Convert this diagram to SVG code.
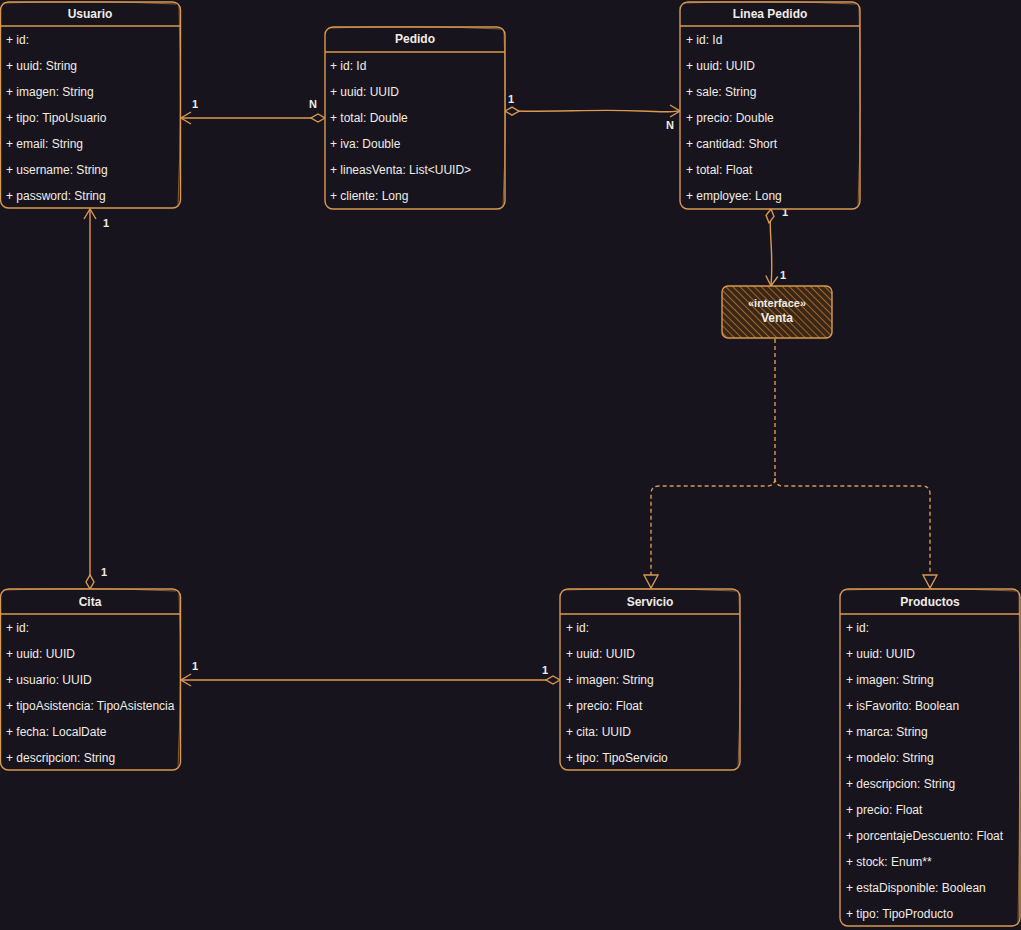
<svg xmlns="http://www.w3.org/2000/svg" width="1021" height="930" viewBox="0 0 1021 930">
<defs>
<style>
.box{fill:#18141d;stroke:#d9994f;stroke-width:1.4}
.sk{fill:none;stroke:#d9994f;stroke-width:0.8;opacity:0.7}
.hd{stroke:#d9994f;stroke-width:1.4}
.t{font-family:"Liberation Sans",Arial,sans-serif;font-size:12px;fill:#f0ece6}
.tt{font-family:"Liberation Sans",Arial,sans-serif;font-size:12px;font-weight:bold;fill:#f0ece6;text-anchor:middle}
.lbl{font-family:"Liberation Sans",Arial,sans-serif;font-size:11px;font-weight:bold;fill:#f0ece6}
.ln{fill:none;stroke:#d9994f;stroke-width:1.4}
.dl{fill:none;stroke:#d9994f;stroke-width:1.4;stroke-dasharray:4 3}
</style>
<pattern id="hatch" width="5" height="5" patternUnits="userSpaceOnUse" patternTransform="rotate(-45)">
<rect width="5" height="5" fill="#3a2716"/>
<line x1="0" y1="0" x2="0" y2="5" stroke="#a0662e" stroke-width="2"/>
</pattern>
<marker id="arr" markerWidth="12" markerHeight="14" refX="11" refY="7" orient="auto" markerUnits="userSpaceOnUse">
<path d="M1,1 L11,7 L1,13" fill="none" stroke="#d9994f" stroke-width="1.4"/>
</marker>
<marker id="dia" markerWidth="18" markerHeight="10" refX="1" refY="5" orient="auto" markerUnits="userSpaceOnUse">
<path d="M1,5 L8,1 L15,5 L8,9 Z" fill="#18141d" stroke="#d9994f" stroke-width="1.4"/>
</marker>
<marker id="tri" markerWidth="16" markerHeight="16" refX="14" refY="8" orient="auto" markerUnits="userSpaceOnUse">
<path d="M1,1 L14,8 L1,15 Z" fill="#18141d" stroke="#d9994f" stroke-width="1.4"/>
</marker>
</defs>
<rect width="1021" height="930" fill="#18141d"/>

<g id="connectors">
<line class="ln" x1="325" y1="118" x2="181" y2="118" marker-start="url(#dia)" marker-end="url(#arr)"/>
<path class="ln" d="M505,111 C560,112 600,109 640,111 S670,111 680,111" marker-start="url(#dia)" marker-end="url(#arr)"/>
<path class="ln" d="M771,209 C768,230 774,250 771,286" marker-start="url(#dia)" marker-end="url(#arr)"/>
<line class="ln" x1="90" y1="589" x2="90" y2="209" marker-start="url(#dia)" marker-end="url(#arr)"/>
<line class="ln" x1="560" y1="680" x2="181" y2="680" marker-start="url(#dia)" marker-end="url(#arr)"/>
<path class="dl" d="M775,339 L775,478 Q775,486 767,486 L659,486 Q651,486 651,494 L651,588" marker-end="url(#tri)"/>
<path class="dl" d="M775,478 Q775,486 783,486 L922,486 Q930,486 930,494 L930,588" marker-end="url(#tri)"/>
<text class="lbl" x="309" y="108">N</text>
<text class="lbl" x="192" y="108">1</text>
<text class="lbl" x="508" y="103">1</text>
<text class="lbl" x="666" y="129">N</text>
<text class="lbl" x="782" y="216">1</text>
<text class="lbl" x="780" y="279">1</text>
<text class="lbl" x="103" y="227">1</text>
<text class="lbl" x="101" y="576">1</text>
<text class="lbl" x="192" y="670">1</text>
<text class="lbl" x="542" y="674">1</text>
</g>

<g id="usuario">
<rect class="box" x="0.5" y="2" width="180" height="206" rx="8"/>
<path class="sk" d="M3,3 Q90,0 176,4 M179,6 Q182,110 178,206"/>
<line class="hd" x1="1" y1="26" x2="180" y2="26"/>
<text class="tt" x="90" y="18">Usuario</text>
<text class="t" x="6" y="44">+ id:</text>
<text class="t" x="6" y="70">+ uuid: String</text>
<text class="t" x="6" y="96">+ imagen: String</text>
<text class="t" x="6" y="122">+ tipo: TipoUsuario</text>
<text class="t" x="6" y="148">+ email: String</text>
<text class="t" x="6" y="174">+ username: String</text>
<text class="t" x="6" y="200">+ password: String</text>
</g>

<g id="pedido">
<rect class="box" x="325" y="27" width="180" height="182" rx="8"/>
<path class="sk" d="M328,28 Q415,25 502,29 M504,31 Q507,120 503,207"/>
<line class="hd" x1="325" y1="52" x2="505" y2="52"/>
<text class="tt" x="415" y="43">Pedido</text>
<text class="t" x="330" y="70">+ id: Id</text>
<text class="t" x="330" y="96">+ uuid: UUID</text>
<text class="t" x="330" y="122">+ total: Double</text>
<text class="t" x="330" y="148">+ iva: Double</text>
<text class="t" x="330" y="174">+ lineasVenta: List&lt;UUID&gt;</text>
<text class="t" x="330" y="200">+ cliente: Long</text>
</g>

<g id="linea-pedido">
<rect class="box" x="680" y="2" width="180" height="207" rx="8"/>
<path class="sk" d="M683,3 Q770,0 856,4 M859,6 Q862,110 858,207"/>
<line class="hd" x1="680" y1="26" x2="860" y2="26"/>
<text class="tt" x="770" y="18">Linea Pedido</text>
<text class="t" x="686" y="44">+ id: Id</text>
<text class="t" x="686" y="70">+ uuid: UUID</text>
<text class="t" x="686" y="96">+ sale: String</text>
<text class="t" x="686" y="122">+ precio: Double</text>
<text class="t" x="686" y="148">+ cantidad: Short</text>
<text class="t" x="686" y="174">+ total: Float</text>
<text class="t" x="686" y="200">+ employee: Long</text>
</g>

<g id="venta">
<rect x="722" y="286" width="110" height="52" rx="6" fill="url(#hatch)" stroke="#d9994f" stroke-width="1.4"/>
<text class="tt" x="777" y="307" style="font-size:11px">«interface»</text>
<text class="tt" x="777" y="322">Venta</text>
</g>

<g id="cita">
<rect class="box" x="0.5" y="589" width="180" height="181" rx="8"/>
<path class="sk" d="M3,590 Q90,587 176,591 M179,593 Q182,680 178,768"/>
<line class="hd" x1="1" y1="614" x2="180" y2="614"/>
<text class="tt" x="90" y="606">Cita</text>
<text class="t" x="6" y="632">+ id:</text>
<text class="t" x="6" y="658">+ uuid: UUID</text>
<text class="t" x="6" y="684">+ usuario: UUID</text>
<text class="t" x="6" y="710">+ tipoAsistencia: TipoAsistencia</text>
<text class="t" x="6" y="736">+ fecha: LocalDate</text>
<text class="t" x="6" y="762">+ descripcion: String</text>
</g>

<g id="servicio">
<rect class="box" x="560" y="589" width="180" height="181" rx="8"/>
<path class="sk" d="M563,590 Q650,587 736,591 M739,593 Q742,680 738,768"/>
<line class="hd" x1="560" y1="614" x2="740" y2="614"/>
<text class="tt" x="650" y="606">Servicio</text>
<text class="t" x="566" y="632">+ id:</text>
<text class="t" x="566" y="658">+ uuid: UUID</text>
<text class="t" x="566" y="684">+ imagen: String</text>
<text class="t" x="566" y="710">+ precio: Float</text>
<text class="t" x="566" y="736">+ cita: UUID</text>
<text class="t" x="566" y="762">+ tipo: TipoServicio</text>
</g>

<g id="productos">
<rect class="box" x="840" y="589" width="180" height="337" rx="8"/>
<path class="sk" d="M843,590 Q930,587 1016,591 M1019,593 Q1021,760 1018,924"/>
<line class="hd" x1="840" y1="614" x2="1020" y2="614"/>
<text class="tt" x="930" y="606">Productos</text>
<text class="t" x="846" y="632">+ id:</text>
<text class="t" x="846" y="658">+ uuid: UUID</text>
<text class="t" x="846" y="684">+ imagen: String</text>
<text class="t" x="846" y="710">+ isFavorito: Boolean</text>
<text class="t" x="846" y="736">+ marca: String</text>
<text class="t" x="846" y="762">+ modelo: String</text>
<text class="t" x="846" y="788">+ descripcion: String</text>
<text class="t" x="846" y="814">+ precio: Float</text>
<text class="t" x="846" y="840">+ porcentajeDescuento: Float</text>
<text class="t" x="846" y="866">+ stock: Enum**</text>
<text class="t" x="846" y="892">+ estaDisponible: Boolean</text>
<text class="t" x="846" y="918">+ tipo: TipoProducto</text>
</g>
</svg>
